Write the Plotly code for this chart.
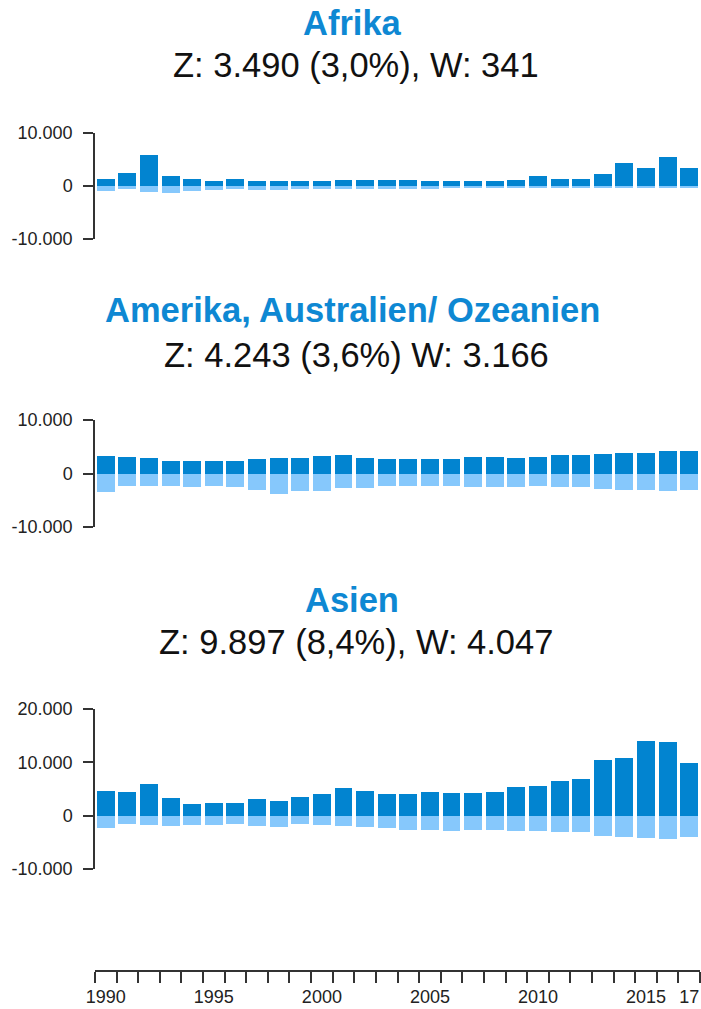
import plotly.graph_objects as go

W, H = 701, 1009

years = list(range(1990, 2018))

afrika_z = [1300, 2500, 5900, 1940, 1300, 940, 1300, 940, 940, 940, 940, 1125, 1125, 1125,
            1125, 940, 940, 940, 940, 1125, 1875, 1300, 1300, 2250, 4310, 3400, 5440, 3490]
afrika_w = [940, 560, 1125, 1310, 940, 750, 560, 750, 750, 560, 560, 560, 560, 560,
            560, 560, 375, 375, 375, 375, 375, 375, 375, 375, 375, 375, 375, 341]

amerika_z = [3310, 3125, 2940, 2375, 2375, 2375, 2375, 2750, 2940, 2940, 3310, 3500, 2940, 2750,
             2750, 2750, 2750, 3125, 3125, 2940, 3125, 3500, 3500, 3690, 3875, 3875, 4250, 4243]
amerika_w = [3400, 2300, 2300, 2300, 2450, 2300, 2450, 3000, 3750, 3200, 3200, 2650, 2650, 2300,
             2300, 2300, 2300, 2450, 2450, 2450, 2300, 2450, 2450, 2850, 3050, 3050, 3200, 3166]

asien_z = [4690, 4500, 6000, 3375, 2250, 2440, 2440, 3190, 2810, 3560, 4125, 5250, 4690, 4125,
           4125, 4500, 4310, 4310, 4500, 5440, 5625, 6560, 6940, 10500, 10875, 14060, 13875, 9897]
asien_w = [2250, 1500, 1690, 1875, 1690, 1690, 1500, 1875, 2060, 1500, 1690, 1875, 2060, 2250,
           2625, 2625, 2810, 2625, 2625, 2810, 2810, 3000, 3000, 3750, 3940, 4125, 4310, 4047]

titles = ["Afrika", "Amerika, Australien/ Ozeanien", "Asien"]
subtitles = ["Z: 3.490 (3,0%), W: 341", "Z: 4.243 (3,6%) W: 3.166", "Z: 9.897 (8,4%), W: 4.047"]

y_ticks_small = [-10000, 0, 10000]
y_ticktext_small = ["-10.000", "0", "10.000"]
y_ticks_big = [-10000, 0, 10000, 20000]
y_ticktext_big = ["-10.000", "0", "10.000", "20.000"]

x_label_years = [1990, 1995, 2000, 2005, 2010, 2015, 2017]
x_label_text = ["1990", "1995", "2000", "2005", "2010", "2015", "17"]

DARK = "#0284d0"
LIGHT = "#86c8fc"
TITLE_BLUE = "#0e88d3"
AXIS = "#333333"
FONT = "Liberation Sans, Arial, sans-serif"

panels = [
    dict(z=afrika_z, w=afrika_w, top=133, bot=239, rng=[-10000, 10000],
         tv=y_ticks_small, tt=y_ticktext_small, t_y=23, s_y=65),
    dict(z=amerika_z, w=amerika_w, top=420, bot=527, rng=[-10000, 10000],
         tv=y_ticks_small, tt=y_ticktext_small, t_y=310, s_y=355),
    dict(z=asien_z, w=asien_w, top=709, bot=869, rng=[-10000, 20000],
         tv=y_ticks_big, tt=y_ticktext_big, t_y=600, s_y=642),
]


def py(p):
    return 1 - p / H


def px(p):
    return p / W


x0, x1 = px(95), px(700)
xr = [years[0] - 0.5, years[-1] + 0.5]
BAR_W = 0.83

fig = go.Figure()
layout = dict(
    template="none",
    width=W, height=H, margin=dict(l=0, r=0, t=0, b=0, pad=0, autoexpand=False),
    paper_bgcolor="white", plot_bgcolor="white",
    showlegend=False, barmode="overlay", bargap=0,
    font=dict(family=FONT, size=18, color="#222222"),
)
annotations = []

for i, p in enumerate(panels, start=1):
    xs = "x" if i == 1 else f"x{i}"
    ys = "y" if i == 1 else f"y{i}"
    fig.add_trace(go.Bar(x=years, y=p["z"], width=BAR_W, marker=dict(color=DARK, line=dict(width=0)),
                         xaxis=xs, yaxis=ys, name="Zuzüge"))
    fig.add_trace(go.Bar(x=years, y=[-v for v in p["w"]], width=BAR_W,
                         marker=dict(color=LIGHT, line=dict(width=0)),
                         xaxis=xs, yaxis=ys, name="Wegzüge"))
    xk = "xaxis" if i == 1 else f"xaxis{i}"
    yk = "yaxis" if i == 1 else f"yaxis{i}"
    layout[xk] = dict(domain=[x0, x1], range=xr, anchor=ys, visible=False, fixedrange=True,
                      automargin=False)
    layout[yk] = dict(domain=[py(p["bot"]), py(p["top"])], range=p["rng"], anchor=xs,
                      automargin=False,
                      showline=True, linecolor=AXIS, linewidth=1.5, showgrid=False, zeroline=False,
                      ticks="outside", ticklen=10, tickwidth=1.5, tickcolor=AXIS,
                      tickvals=p["tv"], ticktext=p["tt"], ticklabelstandoff=7,
                      tickfont=dict(family=FONT, size=18, color="#222222"))
    annotations.append(dict(text=f"<b>{titles[i-1]}</b>", x=px(352), y=py(p["t_y"]),
                            xref="paper", yref="paper",
                            xanchor="center", yanchor="middle", showarrow=False,
                            font=dict(family=FONT, size=34.5, color=TITLE_BLUE)))
    annotations.append(dict(text=subtitles[i-1], x=px(356), y=py(p["s_y"]),
                            xref="paper", yref="paper",
                            xanchor="center", yanchor="middle", showarrow=False,
                            font=dict(family=FONT, size=34.5, color="#111111")))

# bottom time axis: ticks at bar boundaries, labels at selected years
AX_Y = 970
boundaries = [y - 0.5 for y in years] + [years[-1] + 0.5]
fig.add_trace(go.Scatter(x=boundaries, y=[0] * len(boundaries), xaxis="x4", yaxis="y4",
                         mode="markers", marker=dict(opacity=0), hoverinfo="skip"))
fig.add_trace(go.Scatter(x=x_label_years, y=[0] * len(x_label_years), xaxis="x5", yaxis="y4",
                         mode="markers", marker=dict(opacity=0), hoverinfo="skip"))
layout["yaxis4"] = dict(domain=[py(AX_Y), py(AX_Y - 5)], range=[0, 1], anchor="x4", visible=False,
                        automargin=False)
layout["xaxis4"] = dict(domain=[x0, x1], range=xr, anchor="y4", showline=True, linecolor=AXIS,
                        linewidth=1.5, ticks="outside", ticklen=11, tickwidth=1.5, tickcolor=AXIS,
                        tickvals=boundaries, showticklabels=False, showgrid=False, zeroline=False,
                        automargin=False)
layout["xaxis5"] = dict(domain=[x0, x1], range=xr, anchor="y4", overlaying="x4", showline=False,
                        ticks="", tickvals=x_label_years, ticktext=x_label_text,
                        ticklabelstandoff=14, showgrid=False, zeroline=False, automargin=False,
                        tickfont=dict(family=FONT, size=18, color="#222222"))

layout["annotations"] = annotations
fig.update_layout(**layout)
# remove the default 8px page margin so the 701x1009 figure fills the window exactly
fig.write_html("out.html",
               config={"displayModeBar": False},
               post_script="document.body.style.margin='0';document.body.style.overflow='hidden';")
